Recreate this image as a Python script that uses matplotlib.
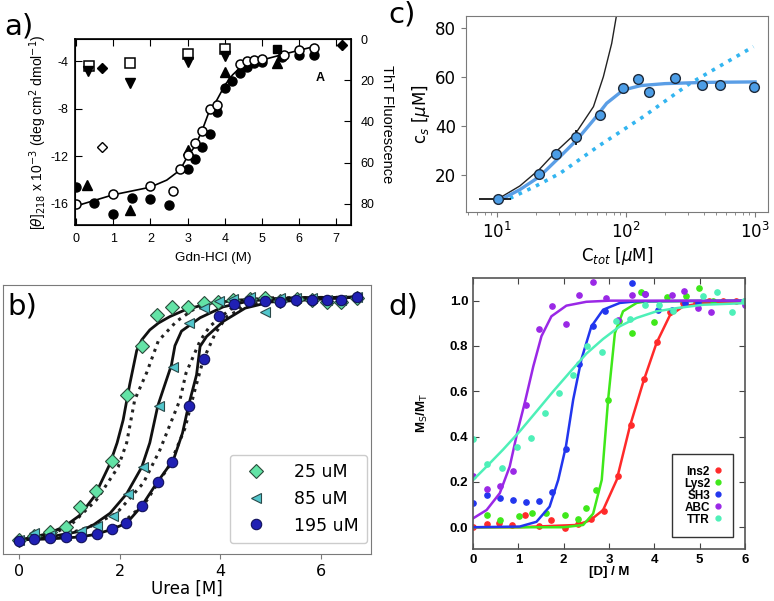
import matplotlib
matplotlib.use('Agg')
import matplotlib.pyplot as plt
from matplotlib.patches import Rectangle
from matplotlib.lines import Line2D

plt.rcParams['axes.unicode_minus'] = False

# ---------------- a) CD / ThT vs Gdn-HCl ----------------
gdn_open = [0, 0.99, 1.99, 2.6, 2.8, 3.0, 3.2, 3.4, 3.6, 3.8, 4.4, 4.6, 4.8, 5.0, 5.6, 6.0, 6.4]
cd_open = [-16.0, -15.13, -14.46, -14.9, -13.1, -11.9, -10.9, -9.85, -8.03, -7.7,
           -4.28, -4.0, -3.9, -3.8, -3.5, -3.1, -2.9]
gdn_fill = [0, 0.49, 0.99, 1.5, 2.0, 2.5, 3.0, 3.2, 3.4, 3.6, 3.8, 4.0, 4.2, 4.4,
            4.6, 4.8, 5.0, 5.55, 6.0, 6.4]
cd_fill = [-14.6, -15.95, -16.87, -15.5, -15.6, -16.1, -13.06, -12.2, -11.2, -10.1,
           -8.3, -6.3, -5.65, -5.03, -4.48, -4.2, -4.1, -3.64, -3.5, -3.5]
gdn_up = [0.3, 1.45, 3.0, 4.0, 5.4]
cd_up = [-14.4, -16.5, -11.47, -4.9, -4.14]
gdn_fit = [0, 0.99, 1.99, 2.44, 2.8, 3.0, 3.19, 3.38, 3.58, 3.79, 4.01, 4.21, 4.4,
           4.6, 5.0, 5.61, 6.0, 6.39]
cd_fit = [-16.17, -15.24, -14.6, -14.0, -13.15, -12.0, -11.2, -9.93, -8.25, -7.27,
          -6.0, -5.17, -4.6, -4.25, -3.92, -3.41, -3.1, -2.8]
# ThT fluorescence (right axis)
gdn_sq = [0.36, 1.45, 3.0, 4.0]
tht_sq = [13.0, 11.7, 7.1, 4.9]
gdn_down = [0.33, 1.45, 3.0, 4.0]
tht_down = [15.7, 21.4, 11.3, 8.4]
gdn_dia = [0.69, 7.15]
tht_dia = [14.1, 2.9]
tht_dia_err = [0, 2.5]
gdn_odia = [0.69]
tht_odia = [52.6]
gdn_fsq = [5.4]
tht_fsq = [4.9]

# ---------------- b) urea denaturation ----------------
urea_25 = [0, 0.30, 0.62, 0.93, 1.21, 1.53, 1.85, 2.15, 2.45, 2.74, 3.05, 3.36, 3.68,
           3.96, 4.26, 4.59, 4.89, 5.19, 5.52, 5.82, 6.12, 6.41, 6.72]
frac_25 = [0.0, 0.016, 0.034, 0.055, 0.135, 0.203, 0.326, 0.595, 0.797, 0.927, 0.961,
           0.958, 0.975, 0.979, 0.989, 0.991, 0.995, 0.986, 0.991, 0.989, 0.982, 0.978, 0.995]
urea_85 = [0, 0.30, 0.62, 0.93, 1.23, 1.54, 1.86, 2.16, 2.47, 2.78, 3.07, 3.38, 3.68,
           3.97, 4.25, 4.59, 4.89, 5.19, 5.50, 5.82, 6.12, 6.41, 6.72]
frac_85 = [0.0, 0.028, 0.02, 0.02, 0.035, 0.059, 0.10, 0.19, 0.30, 0.553, 0.714, 0.893,
           0.954, 0.985, 0.993, 1.0, 0.94, 0.995, 0.995, 0.995, 0.99, 0.99, 1.0]
urea_195 = [0, 0.30, 0.62, 0.93, 1.23, 1.54, 1.85, 2.13, 2.45, 2.77, 3.05, 3.37, 3.67,
            3.97, 4.27, 4.57, 4.89, 5.19, 5.50, 5.82, 6.12, 6.41, 6.72]
frac_195 = [-0.003, 0.003, 0.007, 0.01, 0.014, 0.025, 0.044, 0.071, 0.14, 0.24, 0.32,
            0.553, 0.746, 0.923, 0.971, 0.986, 0.986, 0.979, 0.989, 0.989, 0.989, 0.989, 1.0]
labels_b = ['25 uM', '85 uM', '195 uM']

fit25_x = [0, 0.3, 0.6, 0.9, 1.2, 1.5, 1.8, 1.95, 2.07, 2.2, 2.34, 2.44, 2.6, 2.77,
           3.0, 3.33, 3.8, 4.5, 5.5, 6.72]
fit25_y = [0.0, 0.012, 0.028, 0.055, 0.10, 0.18, 0.31, 0.40, 0.494, 0.64, 0.78, 0.824,
           0.865, 0.893, 0.92, 0.95, 0.975, 0.99, 0.997, 1.0]
fit85_x = [0, 0.6, 1.2, 1.48, 1.81, 2.14, 2.44, 2.6, 2.76, 2.9, 3.03, 3.10, 3.23, 3.6,
           4.06, 4.6, 5.5, 6.72]
fit85_y = [0.0, 0.012, 0.035, 0.062, 0.11, 0.19, 0.30, 0.40, 0.553, 0.64, 0.72, 0.80,
           0.86, 0.915, 0.96, 0.985, 0.997, 1.0]
fit195_x = [0, 0.6, 1.2, 1.5, 1.81, 2.14, 2.44, 2.74, 3.07, 3.25, 3.37, 3.53, 3.60,
            3.73, 4.06, 4.5, 5.0, 6.72]
fit195_y = [0.0, 0.004, 0.012, 0.022, 0.041, 0.069, 0.14, 0.235, 0.33, 0.44, 0.553,
            0.68, 0.797, 0.838, 0.90, 0.955, 0.98, 1.0]
dot1_x = [0, 0.6, 1.01, 1.54, 1.97, 2.14, 2.30, 2.54, 2.77, 3.13, 3.46, 4.0, 5.0, 6.72]
dot1_y = [0.0, 0.02, 0.058, 0.165, 0.30, 0.40, 0.577, 0.69, 0.82, 0.90, 0.948, 0.98, 0.997, 1.0]
dot2_x = [0, 0.9, 1.41, 1.94, 2.47, 2.80, 3.07, 3.20, 3.32, 3.6, 3.79, 4.2, 5.0, 6.72]
dot2_y = [0.0, 0.02, 0.055, 0.11, 0.234, 0.37, 0.51, 0.577, 0.687, 0.82, 0.879, 0.95, 0.99, 1.0]
dot3_x = [0, 1.5, 2.0, 2.5, 3.0, 3.3, 3.5, 3.66, 3.9, 4.13, 4.5, 5.0, 6.72]
dot3_y = [0.0, 0.02, 0.06, 0.15, 0.31, 0.46, 0.62, 0.74, 0.85, 0.92, 0.96, 0.99, 1.0]

# ---------------- c) solubility ----------------
ctot = [10.1, 21.3, 28.6, 40.7, 62.8, 95.2, 124.5, 151.6, 240, 386, 535, 988]
cs = [10.2, 20.3, 28.6, 35.4, 44.5, 55.6, 59.3, 53.8, 59.5, 56.7, 56.7, 55.8]
ctot_err = [2.8, 1.2, 1.3, 2.0, 0, 0, 0, 0, 0, 0, 0, 0]
cs_err = [0.6, 1.2, 1.3, 3.1, 0, 0, 0, 0, 0, 0, 0, 0]
cfit_x = [11.2, 15, 21.3, 30.8, 41.5, 55.9, 70.8, 95.3, 130, 200, 400, 1000]
cfit_y = [10.5, 14, 19.3, 27.5, 34.3, 42.4, 49.3, 54.7, 56.5, 57.3, 57.8, 58.0]
cdot_x = [12.6, 20, 30.8, 62.8, 136, 313, 971]
cdot_y = [10.5, 15.5, 20.7, 32.2, 43.8, 57.4, 72.4]
cblack_x = [10, 15, 21.3, 28.6, 40.7, 55.9, 66.7, 77.4, 83.6, 90]
cblack_y = [10, 15.5, 22.3, 29.5, 37.0, 47.9, 60.1, 73.7, 84.0, 93]

# ---------------- d) Ms/Mt vs [D] ----------------
d_names = ['Ins2', 'Lys2', 'SH3', 'ABC', 'TTR']
d_colors = ['#ff2a2a', '#3fe81a', '#2236ee', '#9a28e6', '#4ef0b8']
ins2_x = [0.0, 0.30, 0.57, 0.87, 1.14, 1.45, 1.73, 2.03, 2.32, 2.61, 2.89, 3.19, 3.48,
          3.77, 4.05, 4.34, 4.64, 4.93, 5.21, 5.52, 5.81]
ins2_y = [0.003, 0.013, 0.018, 0.010, 0.054, 0.006, 0.032, -0.005, 0.015, 0.035, 0.072,
          0.228, 0.451, 0.654, 0.816, 0.95, 0.99, 0.99, 1.0, 1.0, 1.0]
lys2_x = [0.30, 0.59, 1.02, 1.31, 1.61, 2.03, 2.32, 2.49, 2.71, 2.98, 3.22, 3.50, 3.70,
          3.99, 4.27, 4.70, 4.99, 5.3]
lys2_y = [0.054, 0.032, 0.05, 0.062, 0.062, 0.054, 0.035, 0.084, 0.165, 0.56, 0.91,
          0.857, 1.04, 0.904, 1.016, 1.022, 1.056, 1.0]
sh3_x = [0.0, 0.30, 0.59, 0.88, 1.17, 1.46, 1.75, 2.05, 2.34, 2.64, 2.91, 3.50, 3.79,
         4.09, 4.38, 4.67, 4.97, 6.0]
sh3_y = [0.109, 0.143, 0.128, 0.121, 0.113, 0.118, 0.155, 0.345, 0.72, 0.886, 0.953,
         1.078, 1.031, 0.96, 0.96, 0.99, 0.99, 1.0]
abc_x = [0.0, 0.30, 0.59, 0.88, 1.16, 1.46, 1.75, 2.05, 2.34, 2.64, 2.93, 3.20, 3.50,
         3.79, 4.38, 4.66, 4.97, 5.26, 6.0]
abc_y = [0.228, 0.168, 0.18, 0.25, 0.539, 0.875, 0.975, 0.898, 1.026, 1.081, 1.012,
         0.913, 1.026, 1.03, 1.026, 1.044, 0.968, 0.95, 0.98]
ttr_x = [0.0, 0.30, 0.63, 0.96, 1.27, 1.58, 1.90, 2.21, 2.52, 2.84, 3.15, 3.46, 3.79,
         4.10, 4.42, 5.07, 5.38, 5.71, 5.97]
ttr_y = [0.389, 0.278, 0.26, 0.356, 0.393, 0.504, 0.592, 0.673, 0.80, 0.772, 0.909,
         0.919, 0.98, 0.98, 0.953, 1.02, 1.04, 0.948, 1.0]
ins2_fx = [0, 1.0, 2.28, 2.58, 2.87, 3.17, 3.46, 3.76, 4.05, 4.34, 4.64, 5.08, 6.0]
ins2_fy = [0.0, 0.0, 0.01, 0.03, 0.076, 0.209, 0.445, 0.644, 0.814, 0.934, 0.975, 0.99, 0.995]
lys2_fx = [0, 1.0, 2.0, 2.43, 2.65, 2.84, 2.98, 3.13, 3.31, 3.61, 3.83, 6.0]
lys2_fy = [0.0, 0.0, 0.0, 0.01, 0.06, 0.209, 0.562, 0.857, 0.953, 0.99, 0.997, 1.0]
sh3_fx = [0, 1.03, 1.40, 1.69, 1.88, 2.05, 2.21, 2.39, 2.61, 2.87, 3.24, 3.61, 6.0]
sh3_fy = [0.0, 0.003, 0.024, 0.091, 0.209, 0.357, 0.563, 0.74, 0.886, 0.96, 0.99, 0.997, 1.0]
abc_fx = [0.0, 0.30, 0.59, 0.81, 0.99, 1.14, 1.33, 1.51, 1.73, 2.06, 2.5, 3.02, 6.0]
abc_fy = [0.039, 0.076, 0.15, 0.268, 0.43, 0.548, 0.71, 0.843, 0.931, 0.978, 0.995, 1.0, 1.0]
ttr_fx = [0.0, 0.30, 0.66, 1.03, 1.40, 1.77, 2.14, 2.50, 2.87, 3.24, 3.61, 4.05, 4.49, 5.08, 6.0]
ttr_fy = [0.208, 0.268, 0.342, 0.423, 0.511, 0.6, 0.685, 0.766, 0.831, 0.887, 0.924,
          0.953, 0.967, 0.982, 0.989]


def fig_rect(x0, y0, x1, y1):
    # pixel box (top-left origin) -> figure fraction rect
    return [x0 / 774, 1 - y1 / 601, (x1 - x0) / 774, (y1 - y0) / 601]


fig = plt.figure(figsize=(7.74, 6.01), dpi=100)

# ---- panel a ----
arial = 'Liberation Sans'
ax_a = fig.add_axes(fig_rect(75, 39, 351, 225))
ax_a.plot(gdn_fit, cd_fit, color='black', lw=1.2, zorder=2)
ax_a.plot(gdn_fill, cd_fill, 'o', color='black', ms=6.5, zorder=3)
ax_a.plot(gdn_open, cd_open, 'o', mfc='white', mec='black', mew=1.1, ms=6.5, zorder=4)
ax_a.plot(gdn_up, cd_up, '^', color='black', ms=6.5, zorder=3)
ax_a.text(6.57, -5.4, 'A', fontsize=9, fontweight='bold', family=arial, ha='center', va='center')
ax_a.set_xlim(-0.03, 7.4)
ax_a.set_ylim(-17.77, -2.15)
ax_a.set_xticks(range(8))
ax_a.set_yticks([-4, -8, -12, -16])
ax_a.tick_params(direction='in', top=True, right=False, length=5, labelsize=9)
ax_a.tick_params(axis='x', pad=6)
ax_a.tick_params(axis='y', pad=5)
for lab in ax_a.get_xticklabels() + ax_a.get_yticklabels():
    lab.set_family(arial)
ax_a.set_xlabel('Gdn-HCl (M)', fontsize=9.7, family=arial, labelpad=5)
ax_a.set_ylabel(r'[$\theta$]$_{218}$ x 10$^{-3}$ (deg cm$^{2}$ dmol$^{-1}$)', fontsize=10,
                family=arial, labelpad=1)
for sp in ax_a.spines.values():
    sp.set_linewidth(1.2)

ax_t = ax_a.twinx()
ax_t.plot(gdn_sq, tht_sq, 's', mfc='white', mec='black', mew=1.1, ms=6.5)
ax_t.plot(gdn_down, tht_down, 'v', color='black', ms=6.5)
ax_t.errorbar(gdn_dia, tht_dia, yerr=tht_dia_err, fmt='D', color='black', ms=5, capsize=0, elinewidth=1)
ax_t.plot(gdn_odia, tht_odia, 'D', mfc='white', mec='black', mew=1, ms=5)
ax_t.plot(gdn_fsq, tht_fsq, 's', color='black', ms=5.5)
ax_t.set_ylim(90.2, 0)
ax_t.set_yticks([0, 20, 40, 60, 80])
ax_t.tick_params(direction='in', length=5, labelsize=9, pad=7)
for lab in ax_t.get_yticklabels():
    lab.set_family(arial)
ax_t.set_ylabel('ThT Fluorescence', rotation=270, fontsize=10.5, family=arial)
ax_t.yaxis.set_label_coords(1.155, 0.54)

# ---- panel c ----
grey = '#7a7a7a'
ax_c = fig.add_axes(fig_rect(466, 16, 768, 212))
ax_c.set_zorder(2)
ax_c.set_xscale('log')
ax_c.plot(cblack_x, cblack_y, color='#222222', lw=1)
ax_c.plot(cdot_x, cdot_y, ':', color='#33b5f0', lw=2.6)
ax_c.plot(cfit_x, cfit_y, color='#5a9ee6', lw=2.4)
ax_c.errorbar(ctot, cs, xerr=ctot_err, yerr=cs_err, fmt='o', mfc='#4c9de6', mec='#1e2a3a',
              ms=7, mew=1, ecolor='black', elinewidth=1.2, capsize=0, zorder=5)
ax_c.set_xlim(5.75, 1259)
ax_c.set_ylim(4.9, 84.9)
ax_c.set_yticks([20, 40, 60, 80])
ax_c.tick_params(labelsize=12, color=grey)
ax_c.tick_params(which='minor', color=grey)
ax_c.set_xlabel(r'C$_{tot}$ [$\mu$M]', fontsize=12, labelpad=2)
ax_c.set_ylabel(r'c$_s$ [$\mu$M]', fontsize=12, labelpad=2)
for sp in ax_c.spines.values():
    sp.set_color(grey)

# ---- panel b ----
ax_b = fig.add_axes(fig_rect(3, 285, 371, 554))
ax_b.plot(dot1_x, dot1_y, ':', color='#222222', lw=2.2)
ax_b.plot(dot2_x, dot2_y, ':', color='#222222', lw=2.2)
ax_b.plot(dot3_x, dot3_y, ':', color='#222222', lw=2.2)
ax_b.plot(fit25_x, fit25_y, color='#111111', lw=2)
ax_b.plot(fit85_x, fit85_y, color='#111111', lw=2)
ax_b.plot(fit195_x, fit195_y, color='#111111', lw=2)
h1, = ax_b.plot(urea_25, frac_25, 'D', mfc='#63e3a6', mec='#2a4a3a', ms=7.5, mew=0.8, ls='none')
h2, = ax_b.plot(urea_85, frac_85, '<', mfc='#52c6cc', mec='#2a4a4a', ms=7, mew=0.8, ls='none')
h3, = ax_b.plot(urea_195, frac_195, 'o', mfc='#2020b4', mec='#10105a', ms=7.5, mew=0.8, ls='none')
ax_b.legend([h1, h2, h3], labels_b, loc='lower right', fontsize=12.5, borderpad=0.5,
            labelspacing=0.5, handletextpad=1.2, framealpha=1, edgecolor='#cccccc',
            bbox_to_anchor=(0.99, 0.04), borderaxespad=0)
ax_b.set_xlim(-0.32, 7.0)
ax_b.set_ylim(-0.058, 1.05)
ax_b.set_xticks([0, 2, 4, 6])
ax_b.set_yticks([])
ax_b.tick_params(labelsize=11.5, color=grey)
ax_b.set_xlabel('Urea [M]', fontsize=12, labelpad=1)
for sp in ax_b.spines.values():
    sp.set_color(grey)

# ---- panel d ----
ax_d = fig.add_axes(fig_rect(473, 278, 745, 549))
ax_d.set_zorder(2)
d_points = [(ins2_x, ins2_y), (lys2_x, lys2_y), (sh3_x, sh3_y), (abc_x, abc_y), (ttr_x, ttr_y)]
d_fits = [(ins2_fx, ins2_fy), (lys2_fx, lys2_fy), (sh3_fx, sh3_fy), (abc_fx, abc_fy), (ttr_fx, ttr_fy)]
handles = []
for name, col, pts, fit in zip(d_names, d_colors, d_points, d_fits):
    ax_d.plot(fit[0], fit[1], color=col, lw=1.8)
    ax_d.plot(pts[0], pts[1], 'o', color=col, ms=3.8, ls='none')
    handles.append(Line2D([], [], marker='o', color=col, ms=3.5, ls='none'))
leg = ax_d.legend(handles, d_names, loc='lower right', markerfirst=False, fancybox=False,
                  edgecolor='#333333', framealpha=1, handlelength=0.5, handletextpad=0.45,
                  labelspacing=0, borderpad=1.0, bbox_to_anchor=(0.956, 0.043),
                  borderaxespad=0, prop={'family': arial, 'weight': 'bold', 'size': 8.5})
leg.get_frame().set_linewidth(1)
# right-align the labels against the markers
for column in leg._legend_handle_box.get_children():
    column.align = 'right'
ax_d.set_xlim(0, 6)
ax_d.set_ylim(-0.096, 1.10)
ax_d.set_xticks(range(7))
ax_d.set_yticks([0.0, 0.2, 0.4, 0.6, 0.8, 1.0])
ax_d.set_yticklabels(['0.0', '0.2', '0.4', '0.6', '0.8', '1.0'])
ax_d.tick_params(direction='in', top=True, right=True, length=4, labelsize=9.5, color='#444444')
for lab in ax_d.get_xticklabels() + ax_d.get_yticklabels():
    lab.set_family(arial)
    lab.set_fontweight('bold')
ax_d.set_xlabel('[D] / M', fontsize=9.5, family=arial, fontweight='bold', labelpad=0)
ax_d.set_ylabel(r'M$_\mathsf{S}$/M$_\mathsf{T}$', fontsize=9.5, family=arial,
                fontweight='bold', labelpad=14)
for sp in ax_d.spines.values():
    sp.set_color('#555555')
    sp.set_linewidth(1.2)

# white background of the right-hand panels hides the end of the ThT label
fig.patches.append(Rectangle((397 / 774, 1 - 265 / 601), 1, 1, transform=fig.transFigure,
                             facecolor='white', edgecolor='none', zorder=1))

# panel letters
fig.text(4 / 774, 1 - 34 / 601, 'a)', fontsize=21)
fig.text(7 / 774, 1 - 315 / 601, 'b)', fontsize=21, zorder=5)
fig.text(388 / 774, 1 - 22 / 601, 'c)', fontsize=21, zorder=5)
fig.text(388 / 774, 1 - 314 / 601, 'd)', fontsize=21, zorder=5)

fig.savefig('out.png', dpi=100)
